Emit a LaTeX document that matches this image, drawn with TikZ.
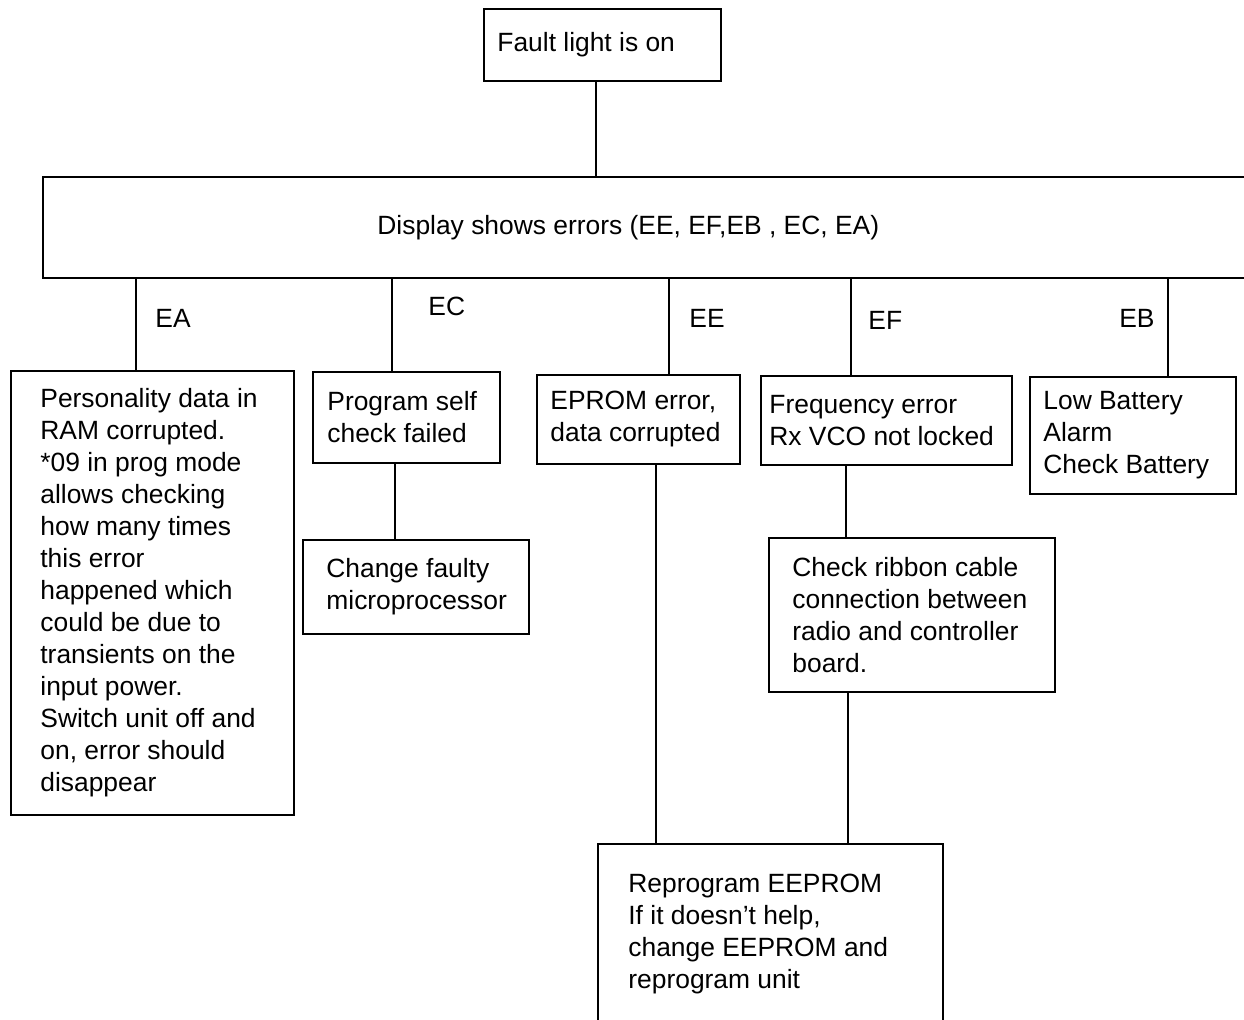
\documentclass[tikz,border=0pt]{standalone}
\usepackage{fontspec}
\setmainfont{Liberation Sans}
\usepackage{tikz}
\usetikzlibrary{positioning}

\begin{document}
\begin{tikzpicture}[
  x=0.5pt,
  y=-0.5pt,
  font=\fontsize{13.2}{16}\selectfont,
  box/.style={draw, line width=1pt, anchor=north west, inner sep=0pt},
  note/.style={anchor=west, align=left, inner sep=0pt},
  tag/.style={anchor=west, inner sep=0pt},
  link/.style={line width=1pt}
]
  \useasboundingbox (0,0) rectangle (1244,1020);
  \clip (0,0) rectangle (1244,1020);

  % boxes
  \node[box, minimum width=118.5pt, minimum height=36pt,
    label={[note, xshift=7pt]west:Fault light is on}] (fault) at (483,8) {};
  \node[box, minimum width=620pt, minimum height=50.5pt,
    label={[note, xshift=167.5pt]west:Display shows errors (EE, EF,EB , EC, EA)}] (display) at (42,176) {};

  \node[box, minimum width=141.5pt, minimum height=222pt,
    label={[note, xshift=15pt]west:{Personality data in\\RAM corrupted.\\*09 in prog mode\\allows checking\\how many times\\this error\\happened which\\could be due to\\transients on the\\input power.\\Switch unit off and\\on, error should\\disappear}}] (ea) at (10,370) {};
  \node[box, minimum width=93.5pt, minimum height=45.5pt,
    label={[note, xshift=7.5pt]west:{Program self\\check failed}}] (ec) at (312,371) {};
  \node[box, minimum width=113pt, minimum height=47pt,
    label={[note, xshift=12pt]west:{Change faulty\\microprocessor}}] (change) at (302,539) {};
  \node[box, minimum width=101.5pt, minimum height=44.5pt,
    label={[note, xshift=7pt]west:{EPROM error,\\data corrupted}}] (ee) at (536,374) {};
  \node[box, minimum width=125.5pt, minimum height=44.5pt,
    label={[note, xshift=4.5pt]west:{Frequency error\\Rx VCO not locked}}] (ef) at (760,375) {};
  \node[box, minimum width=143pt, minimum height=77pt,
    label={[note, xshift=12pt]west:{Check ribbon cable\\connection between\\radio and controller\\board.}}] (ribbon) at (768,537) {};
  \node[box, minimum width=172.5pt, minimum height=90pt,
    label={[note, xshift=15.5pt]west:{Reprogram EEPROM\\If it doesn’t help,\\change EEPROM and\\reprogram unit}}] (reprog) at (597,843) {};
  \node[box, minimum width=103pt, minimum height=58.5pt,
    label={[note, xshift=7pt]west:{Low Battery\\Alarm\\Check Battery}}] (eb) at (1029,376) {};

  % error codes
  \node[tag] (tea) at (155,318) {EA};
  \node[tag] (tec) at (428,306) {EC};
  \node[tag] (tee) at (689,318) {EE};
  \node[tag] (tef) at (868,320) {EF};
  \node[tag, anchor=east] (teb) at (1155,318) {EB};

  % connectors
  \draw[link] (fault.south -| 596,0) -- (display.north -| 596,0);
  \draw[link] (display.south -| 136,0) -- (ea.north -| 136,0);
  \draw[link] (display.south -| 392,0) -- (ec.north -| 392,0);
  \draw[link] (display.south -| 669,0) -- (ee.north -| 669,0);
  \draw[link] (display.south -| 851,0) -- (ef.north -| 851,0);
  \draw[link] (display.south -| 1168,0) -- (eb.north -| 1168,0);
  \draw[link] (ec.south -| 395,0) -- (change.north -| 395,0);
  \draw[link] (ef.south -| 846,0) -- (ribbon.north -| 846,0);
  \draw[link] (ee.south -| 656,0) -- (reprog.north -| 656,0);
  \draw[link] (ribbon.south -| 848,0) -- (reprog.north -| 848,0);
\end{tikzpicture}
\end{document}
